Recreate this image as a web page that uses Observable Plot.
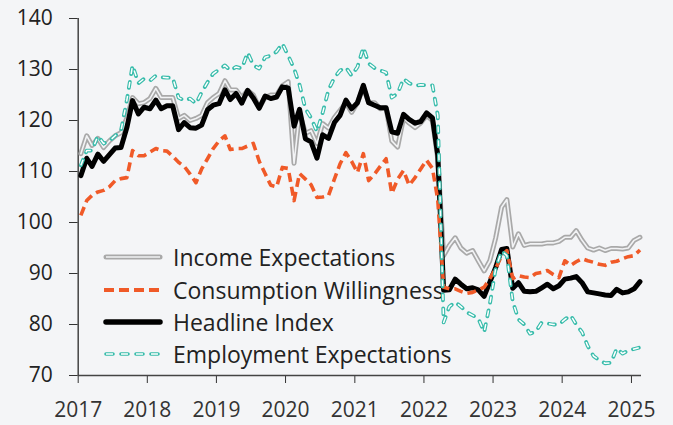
<!DOCTYPE html>
<html>
<head>
<meta charset="utf-8">
<script src="https://cdn.jsdelivr.net/npm/d3@7"></script>
<script src="https://cdn.jsdelivr.net/npm/@observablehq/plot@0.6"></script>
<style>
  html, body { margin: 0; padding: 0; background: #f4f5f7; }
  #wrap { position: relative; width: 673px; height: 425px; background: #f4f5f7; overflow: hidden; font-family: "Open Sans", sans-serif; }
  #legend { position: absolute; left: 103px; top: 241px; z-index: 0; color: #222; }
  .row { display: flex; align-items: center; height: 32.4px; font-size: 23px; white-space: nowrap; }
  .row svg { margin-right: 10px; flex: none; }
  #chart { position: absolute; left: 0; top: 0; z-index: 1; }
</style>
</head>
<body>
<div id="wrap">
  <div id="legend"></div>
  <div id="chart"></div>
</div>
<script>
// Series names
const seriesNames = ["Income Expectations", "Consumption Willingness", "Headline Index", "Employment Expectations"];

// Monthly values, Jan 2017 – Feb 2025
const headline = [
  109.2, 112.6, 111.0, 113.4, 112.0, 113.3, 114.6, 114.7, 118.6, 123.9, 121.3, 122.6,
  122.3, 124.0, 122.3, 122.9, 122.9, 118.2, 119.6, 118.6, 118.5, 119.1, 122.1, 123.0,
  123.3, 126.0, 124.1, 125.3, 123.4, 125.9, 124.4, 122.4, 124.8, 124.3, 124.6, 126.6,
  126.4, 118.9, 122.2, 116.4, 115.8, 112.6, 117.2, 116.5, 119.6, 121.0, 124.0, 122.3,
  123.5, 126.9, 123.5, 123.0, 122.5, 122.5, 117.8, 117.5, 121.2, 120.2, 119.5, 119.8,
  121.5, 120.5, 113.2, 86.7, 86.8, 88.9, 87.9, 87.0, 87.2, 86.8, 85.5, 88.3,
  91.2, 94.7, 94.9, 87.1, 88.2, 86.5, 86.4, 86.5, 87.2, 87.9, 87.0, 87.6,
  88.9, 89.1, 89.4, 88.2, 86.4, 86.2, 86.0, 85.8, 85.7, 86.9, 86.2, 86.4,
  87.0, 88.4
];
const income = [
  113.5, 117.0, 115.1, 116.5, 114.7, 116.0, 117.0, 117.6, 120.5, 124.5, 123.3, 123.5,
  124.3, 126.3, 124.5, 124.5, 124.5, 120.4, 121.0, 120.0, 120.4, 121.0, 123.5, 124.5,
  125.3, 127.8, 126.0, 126.0, 124.5, 125.9, 125.0, 122.5, 124.5, 125.0, 125.0, 126.8,
  127.6, 111.6, 121.5, 117.5, 118.0, 115.5, 119.4, 118.5, 120.6, 122.0, 123.5, 121.6,
  123.5, 126.5, 123.5, 123.5, 122.3, 122.5, 116.0, 114.8, 120.5, 119.5, 118.6, 119.5,
  121.0, 120.0, 112.5, 93.5, 95.5, 97.0, 95.0, 94.0, 94.5, 92.5, 90.5, 92.5,
  97.0, 103.0, 104.5, 95.2, 97.8, 95.5, 95.8, 95.8, 95.8, 96.0, 96.0, 96.3,
  97.1, 97.1, 98.4, 96.5, 95.0, 94.6, 95.0, 94.5, 94.9, 94.9, 94.8, 95.0,
  96.5, 97.1
];
const consumption = [
  101.4, 104.3, 105.3, 106.0, 106.3, 107.0, 108.2, 108.6, 108.8, 114.1, 113.1, 113.1,
  113.8, 114.5, 114.1, 114.0, 113.0, 111.8, 111.0, 109.5, 107.8, 110.5, 112.5, 114.5,
  116.0, 117.0, 114.3, 114.5, 114.5, 115.0, 115.5, 112.0, 109.6, 107.3, 107.0, 110.8,
  110.6, 104.3, 109.6, 108.5, 107.4, 104.9, 105.0, 105.3, 108.5, 111.5, 113.7, 112.0,
  109.8, 113.5, 108.2, 109.5, 111.0, 112.5, 105.7, 108.5, 110.2, 107.3, 108.8, 110.5,
  112.2, 110.6, 104.5, 87.3, 87.0, 87.0, 86.5, 86.1, 86.3, 86.8, 87.3, 89.0,
  91.0, 93.5, 94.5, 89.0, 89.6, 89.3, 89.2, 90.0, 90.2, 90.6, 89.8, 89.2,
  92.5, 91.6, 92.3, 92.9, 92.5, 92.2, 91.8, 91.6, 92.2, 92.4, 92.9, 93.3,
  93.5, 94.6
];
const employment = [
  111.2, 114.1, 114.1, 117.0, 115.5, 116.0, 117.0, 118.0, 124.0, 130.8, 127.3, 128.2,
  127.8, 128.8, 128.5, 128.4, 128.4, 124.5, 123.9, 124.3, 123.3, 125.5, 127.5, 129.2,
  130.0, 130.8, 129.8, 130.5, 130.2, 133.3, 130.8, 130.2, 132.4, 132.7, 133.5, 135.1,
  132.7, 130.2, 127.0, 122.3, 120.5, 117.8, 121.5, 126.0, 128.4, 129.8, 130.4, 128.8,
  130.5, 134.3, 131.2, 130.3, 129.8, 129.4, 124.5, 125.3, 128.2, 127.3, 126.8, 127.0,
  126.9, 126.9, 121.0, 80.4, 83.5, 84.4, 83.5, 82.4, 81.8, 81.2, 78.5, 84.0,
  91.0, 94.4, 93.5, 84.5, 81.0, 80.0, 78.2, 78.6, 80.4, 80.2, 80.0, 80.0,
  81.0, 81.8, 80.0, 78.5, 75.8, 73.8, 73.0, 72.4, 72.5, 75.3, 74.3, 74.9,
  75.2, 75.5
];
const yTicks = [70, 80, 90, 100, 110, 120, 130, 140];
const xTickYears = [2017, 2018, 2019, 2020, 2021, 2022, 2023, 2024, 2025];

const colors = { income: "#a9a9a9", consumption: "#f05a28", headline: "#000000", employment: "#38bcab" };
const innerLight = "#f2f3f5";

const months = d3.utcMonth.range(new Date(Date.UTC(2017, 0, 1)), new Date(Date.UTC(2025, 2, 1)))
  .map(d => new Date(Date.UTC(d.getUTCFullYear(), d.getUTCMonth(), 15)));
const data = months.map((date, i) => ({
  date, headline: headline[i], income: income[i], consumption: consumption[i], employment: employment[i]
}));
const xTicks = xTickYears.map(y => new Date(Date.UTC(y, 0, 1)));
const xStart = new Date(Date.UTC(2017, 0, 1));
const xEnd = new Date(Date.UTC(2025, 1, 23));

const chart = Plot.plot({
  width: 673,
  height: 425,
  marginLeft: 77.7,
  marginRight: 32,
  marginTop: 18,
  marginBottom: 50,
  style: { background: "transparent", fontFamily: "Open Sans, sans-serif", fontSize: "21px", color: "#333" },
  x: { type: "utc", domain: [xStart, xEnd], ticks: xTicks, tickSize: 8, tickPadding: 19, tickFormat: d3.utcFormat("%Y"), label: null },
  y: { domain: [70, 140], ticks: yTicks, tickSize: 8.7, tickFormat: () => "", label: null },
  marks: [
    Plot.text(yTicks, { y: d => d, text: d => String(d), frameAnchor: "left", dx: -25.5, textAnchor: "end", fill: "#222", fontSize: 21 }),
    Plot.ruleY([70], { stroke: "#444", strokeWidth: 1.5 }),
    Plot.ruleX([xStart], { stroke: "#444", strokeWidth: 1.5 }),
    Plot.lineY(data, { x: "date", y: "income", stroke: colors.income, strokeWidth: 5 }),
    Plot.lineY(data, { x: "date", y: "income", stroke: innerLight, strokeWidth: 1.6 }),
    Plot.lineY(data, { x: "date", y: "headline", stroke: colors.headline, strokeWidth: 5 }),
    Plot.lineY(data, { x: "date", y: "consumption", stroke: colors.consumption, strokeWidth: 3.6, strokeDasharray: "9,5", strokeLinecap: "butt" }),
    Plot.lineY(data, { x: "date", y: "employment", stroke: colors.employment, strokeWidth: 3.8, strokeDasharray: "6,8" }),
    Plot.lineY(data, { x: "date", y: "employment", stroke: "#ffffff", strokeWidth: 1.5, strokeDasharray: "6,8", strokeLinecap: "butt" })
  ]
});
document.getElementById("chart").appendChild(chart);

// Legend (drawn beneath the data lines)
const legendKeys = ["income", "consumption", "headline", "employment"];
const legend = d3.select("#legend");
legendKeys.forEach((k, i) => {
  const row = legend.append("div").attr("class", "row");
  const svg = row.append("svg").attr("width", 60).attr("height", 20);
  if (k === "income") {
    svg.append("line").attr("x1", 3).attr("x2", 57).attr("y1", 10).attr("y2", 10)
      .attr("stroke", colors.income).attr("stroke-width", 5).attr("stroke-linecap", "round");
    svg.append("line").attr("x1", 3).attr("x2", 57).attr("y1", 10).attr("y2", 10)
      .attr("stroke", innerLight).attr("stroke-width", 1.6);
  } else if (k === "consumption") {
    svg.append("line").attr("x1", 1).attr("x2", 59).attr("y1", 10).attr("y2", 10)
      .attr("stroke", colors.consumption).attr("stroke-width", 4).attr("stroke-dasharray", "10,5");
  } else if (k === "headline") {
    svg.append("line").attr("x1", 3).attr("x2", 57).attr("y1", 10).attr("y2", 10)
      .attr("stroke", colors.headline).attr("stroke-width", 5.5).attr("stroke-linecap", "round");
  } else {
    svg.append("line").attr("x1", 3).attr("x2", 59).attr("y1", 10).attr("y2", 10)
      .attr("stroke", colors.employment).attr("stroke-width", 3.6).attr("stroke-dasharray", "7,8").attr("stroke-linecap", "round");
    svg.append("line").attr("x1", 3).attr("x2", 59).attr("y1", 10).attr("y2", 10)
      .attr("stroke", "#ffffff").attr("stroke-width", 1.4).attr("stroke-dasharray", "7,8");
  }
  row.append("span").text(seriesNames[i]);
});
</script>
</body>
</html>
